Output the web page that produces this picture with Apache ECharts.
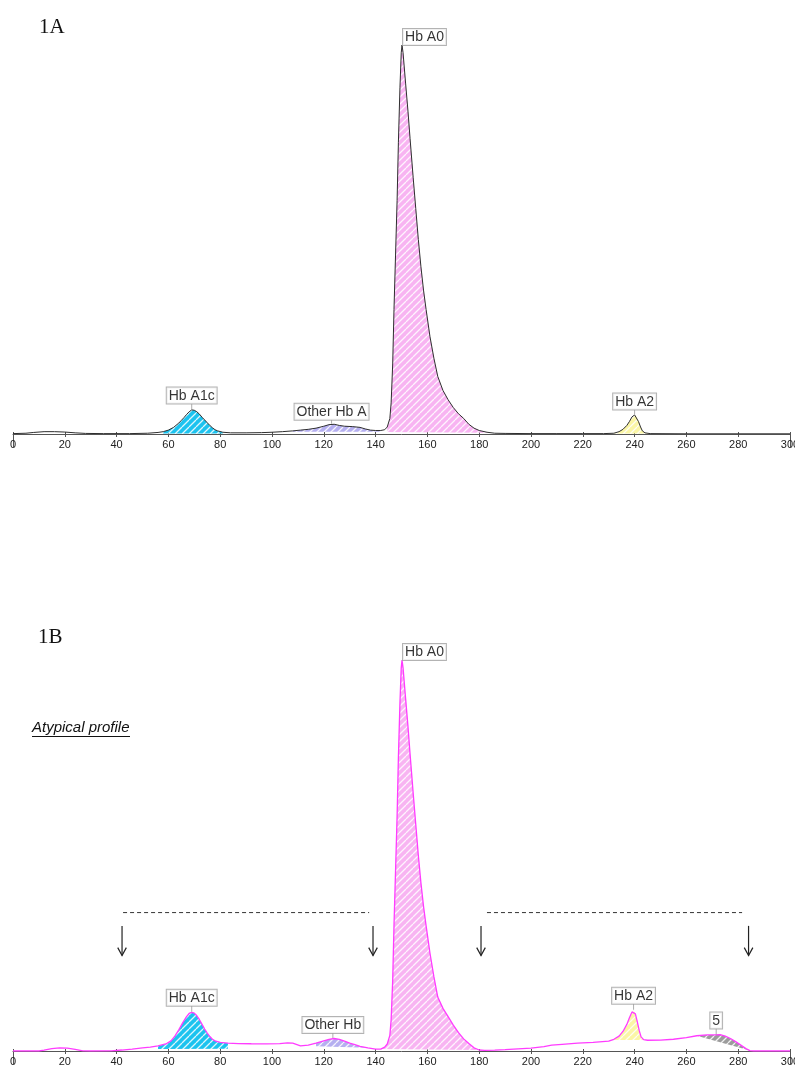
<!DOCTYPE html>
<html><head><meta charset="utf-8">
<script src="https://cdn.jsdelivr.net/npm/echarts@6/dist/echarts.min.js"></script>
<style>html,body{margin:0;padding:0;background:#fff}#c{width:795px;height:1068px}</style>
</head><body><div id="c"></div>
<script>
// ---------- DATA ----------
const xTickStep = 20;            // retention-time tick step
const xRange = [0, 300];

// Panel 1A chromatogram [time, signal]
const signal1A = [[0,0.1],[5,0.2],[8,0.4],[12,0.6],[16,0.6],[20,0.5],[24,0.3],[28,0.15],[35,0.1],[45,0.1],[52,0.2],[56,0.4],[58,0.6],[60,1.0],[62,1.7],[64,2.8],[65,3.5],[66,4.2],[67,5.0],[68,5.7],[69,6.2],[70,6.1],[71,5.7],[72,5.1],[73,4.3],[74,3.6],[75,2.9],[76,2.2],[77,1.6],[78,1.1],[79,0.8],[81,0.45],[84,0.3],[90,0.3],[96,0.35],[100,0.45],[104,0.6],[108,0.8],[111,1.0],[114,1.2],[117,1.5],[120,2.0],[122,2.4],[124,2.5],[126,2.2],[128,2.0],[131,1.9],[134,1.7],[136,1.3],[138,1.0],[140,0.9],[142,0.9],[143.5,1.1],[144.5,1.8],[145.5,4],[146,8],[146.6,18],[147.1,32],[147.7,46],[148.3,60],[148.8,75],[149.4,89],[149.9,98],[150.2,100],[150.6,98],[151.6,90],[152.5,83],[153.3,76],[154.5,66],[155.5,58],[156.5,50],[157.5,43],[158.5,37],[159.5,32],[161,25],[162.5,19.5],[164,14.8],[166,11.2],[168,8.8],[170,6.8],[172,5.2],[174,4.0],[176,2.5],[178,1.5],[180,0.9],[183,0.45],[186,0.2],[190,0.15],[200,0.1],[210,0.1],[220,0.1],[228,0.1],[232,0.2],[234,0.6],[235.5,1.2],[237,2.2],[238,3.2],[239,4.4],[240,4.9],[240.7,4.5],[241.5,3.2],[242.3,1.8],[243,0.8],[244,0.3],[246,0.1],[260,0.05],[280,0.05],[300,0.05]];

const peakNames1A = ['Hb A1c','Other Hb A','Hb A0','Hb A2'];
const peakTop1A   = [[69,6.2],[123,2.5],[150.2,100],[240,4.9]];
const peakSpan1A  = [[58,81],[108,142],[144.5,183],[232,246]];
const peakBase1A  = [[0.1,0.1],[0.6,0.6],[0.5,0.3],[0.1,0.1]];

// Panel 1B chromatogram [time, signal]
const signal1B = [[0,0],[10,0],[12,0.2],[15,0.6],[18,0.8],[21,0.75],[24,0.4],[27,0.05],[30,0],[38,0.05],[42,0.25],[46,0.5],[50,0.8],[53,1.0],[56,1.3],[59,1.8],[61,2.6],[62.5,3.8],[64,5.4],[65.5,7.2],[67,8.8],[68,9.6],[69,9.9],[70,9.7],[71,9.0],[72,8.0],[73,6.8],[74,5.6],[75,4.6],[76,3.7],[77,3.0],[78,2.6],[80,2.2],[83,2.0],[87,1.9],[92,1.85],[98,1.8],[103,1.9],[106,2.1],[108,2.0],[111,1.3],[114,1.5],[117,2.0],[120,2.6],[122,3.0],[124,3.2],[126,3.0],[128,2.5],[130,2.0],[132,1.6],[134,1.2],[137,0.8],[140,0.5],[142,0.5],[143.5,1.0],[144.5,1.8],[145.5,4],[146,8],[146.6,18],[147.1,32],[147.7,46],[148.3,60],[148.8,75],[149.4,89],[149.9,98],[150.2,100],[150.6,98],[151.6,90],[152.5,83],[153.3,76],[154.5,66],[155.5,58],[156.5,50],[157.5,43],[158.5,37],[159.5,32],[161,25],[162.5,19],[164,13.8],[166,10.9],[168,8.8],[170,6.6],[172,4.7],[174,3.1],[176,1.9],[178,0.8],[180,0.25],[182,0.15],[186,0.2],[190,0.35],[195,0.55],[200,0.75],[205,1.1],[208,1.5],[212,1.7],[218,2.0],[224,2.2],[230,2.5],[232,3.0],[234,3.8],[235.5,5],[237,6.8],[238,8.5],[239,10.0],[239.6,10.4],[240.3,9.5],[241,7.6],[241.8,5.2],[242.5,3.6],[243.5,2.9],[245,2.75],[250,2.8],[255,3.0],[260,3.4],[264,3.9],[268,4.1],[271,4.1],[273,4.2],[275,3.8],[277,3.2],[279,2.4],[281,1.5],[283,0.6],[284.5,0.1],[286,0],[300,0]];

const peakNames1B = ['Hb A1c','Other Hb','Hb A0','Hb A2','5'];
const peakTop1B   = [[69,9.9],[123.5,3.2],[150.2,100],[239.6,10.4],[271.5,4.1]];
const peakSpan1B  = [[56,83],[117,137],[142,180],[232,243.5],[264,284.5]];
const peakBase1B  = [[0.5,0.6],[1.2,0.8],[0.5,0.25],[2.8,2.8],[3.9,0.1]];

// Annotation in 1B (retention time / signal units)
const bracketLevel = 35.4;
const bracketSpans = [[42.5,137.5],[183,281.5]];
const arrowTimes   = [42.1,139,180.7,284];
const arrowRange   = [32, 24.4];

// ---------- STYLE ----------
const fillColors1A = ['#1cc3ef','#b5aff0','#f8b4f2','#fbf6a6'];
const fillColors1B = ['#1cc3ef','#b5aff0','#f8b4f2','#fbf6a6','#9c9c9c'];
const labelGap1A = [7,5,0,6];
const labelGap1B = [7,6,0,7,7];

function hatch(color){
  const s = 7;
  const c = document.createElement('canvas'); c.width = s; c.height = s;
  const g = c.getContext('2d');
  g.fillStyle = color; g.fillRect(0,0,s,s);
  g.strokeStyle = 'rgba(255,255,255,0.85)'; g.lineWidth = 1.3;
  g.beginPath();
  for (let k = -s; k <= 2*s; k += s){ g.moveTo(k, s); g.lineTo(k + s, 0); }
  g.stroke();
  return {type:'pattern', image:c, repeat:'repeat'};
}

const FONT = 'Liberation Sans, Arial, sans-serif';

function xAxesFor(gi){
  return [
    {gridIndex:gi, type:'value', min:xRange[0], max:xRange[1], interval:xTickStep, position:'bottom',
     axisLine:{show:true, onZero:false, lineStyle:{color:'#555', width:1}},
     axisTick:{show:true, length:3, lineStyle:{color:'#555'}},
     axisLabel:{show:true, fontSize:11, color:'#222', margin:5, fontFamily:FONT, hideOverlap:false},
     splitLine:{show:false}},
    {gridIndex:gi, type:'value', min:xRange[0], max:xRange[1], interval:xTickStep, position:'bottom',
     axisLine:{show:false}, axisLabel:{show:false}, splitLine:{show:false},
     axisTick:{show:true, inside:true, length:2, lineStyle:{color:'#555'}}},
    {gridIndex:gi, type:'value', min:xRange[0], max:xRange[1], interval:xRange[1]-xRange[0], position:'bottom',
     axisLine:{show:false}, axisLabel:{show:false}, splitLine:{show:false},
     axisTick:{show:true, length:13, lineStyle:{color:'#555'}}}
  ];
}

function fillSeries(xi, yi, signal, spans, bases, colors){
  return {
    type:'custom', xAxisIndex:xi, yAxisIndex:yi, z:2, silent:true,
    data: spans.map((s,i)=>[s[0], bases[i][0], s[1], bases[i][1], i]),
    encode:{x:[0,2], y:[1,3]},
    renderItem(params, api){
      const i = api.value(4), x0 = api.value(0), x1 = api.value(2);
      const pts = signal.filter(p => p[0] >= x0 && p[0] <= x1).map(p => api.coord(p));
      pts.push(api.coord([x1, api.value(3)]));
      pts.push(api.coord([x0, api.value(1)]));
      return {type:'polygon', shape:{points:pts}, style:{fill:hatch(colors[i]), stroke:null}};
    }
  };
}

function lineSeries(xi, yi, signal, color, width){
  return {type:'line', xAxisIndex:xi, yAxisIndex:yi, data:signal, symbol:'none', z:3, silent:true,
    lineStyle:{color:color, width:width}, smooth:false};
}

function labelSeries(xi, yi, names, tops, gaps){
  return {
    type:'scatter', xAxisIndex:xi, yAxisIndex:yi, z:5, silent:true,
    data: names.map((n,i)=>{
      const common = {show:true, formatter:'{b}', fontSize:14, fontFamily:FONT, color:'#000',
        backgroundColor:'#fff', borderColor:'#a0a0a0', borderWidth:1, padding:[1,2,0,2], lineHeight:15};
      if (gaps[i] === 0){
        return {name:n, value:tops[i], symbolSize:0,
          label:Object.assign({}, common, {position:[1,0], align:'left', verticalAlign:'bottom'})};
      }
      return {name:n, value:tops[i], symbol:'rect', symbolSize:[1, gaps[i]-1], symbolOffset:[0, -gaps[i]/2],
        itemStyle:{color:'#999'},
        label:Object.assign({}, common, {position:'top', distance:0})};
    })
  };
}

function annotationSeries(xi, yi){
  return {
    type:'custom', xAxisIndex:xi, yAxisIndex:yi, z:4, silent:true, clip:false,
    data:[[bracketSpans[0][0], bracketLevel]],
    renderItem(params, api){
      const children = [];
      bracketSpans.forEach(s=>{
        const a = api.coord([s[0], bracketLevel]), b = api.coord([s[1], bracketLevel]);
        children.push({type:'line', shape:{x1:a[0], y1:a[1], x2:b[0], y2:b[1]},
          style:{stroke:'#333', lineWidth:1, lineDash:[4,3]}});
      });
      arrowTimes.forEach(t=>{
        const a = api.coord([t, arrowRange[0]]), b = api.coord([t, arrowRange[1]]);
        children.push({type:'line', shape:{x1:a[0], y1:a[1], x2:b[0], y2:b[1]},
          style:{stroke:'#222', lineWidth:1.2}});
        children.push({type:'polyline', shape:{points:[[b[0]-4.3, b[1]-8],[b[0], b[1]],[b[0]+4.3, b[1]-8]]},
          style:{stroke:'#222', lineWidth:1.2, fill:null}});
      });
      return {type:'group', children};
    }
  };
}

const chart = echarts.init(document.getElementById('c'), null, {renderer:'canvas'});
chart.setOption({
  animation:false,
  backgroundColor:'#fff',
  title:[
    {text:'1A', left:39, top:17, padding:0, textStyle:{fontFamily:'Liberation Serif, Times New Roman, serif', fontSize:21, fontWeight:'normal', color:'#111'}},
    {text:'1B', left:38, top:627, padding:0, textStyle:{fontFamily:'Liberation Serif, Times New Roman, serif', fontSize:21, fontWeight:'normal', color:'#111'}},
    {text:'Atypical profile', left:32, top:720, padding:0, textStyle:{fontFamily:FONT, fontSize:15, fontStyle:'italic', fontWeight:'normal', color:'#111'}}
  ],
  graphic:[{type:'line', shape:{x1:32, y1:736.5, x2:130, y2:736.5}, style:{stroke:'#111', lineWidth:1}}],
  grid:[
    {left:13, width:777, top:45, height:389, containLabel:false, outerBoundsMode:'none'},
    {left:13, width:777, top:660, height:391, containLabel:false, outerBoundsMode:'none'}
  ],
  xAxis:[].concat(xAxesFor(0), xAxesFor(1)),
  yAxis:[
    {gridIndex:0, type:'value', min:0, max:100, show:false},
    {gridIndex:1, type:'value', min:0, max:100, show:false}
  ],
  series:[
    fillSeries(0,0,signal1A,peakSpan1A,peakBase1A,fillColors1A),
    lineSeries(0,0,signal1A,'#2e2e2e',1),
    labelSeries(0,0,peakNames1A,peakTop1A,labelGap1A),
    fillSeries(3,1,signal1B,peakSpan1B,peakBase1B,fillColors1B),
    lineSeries(3,1,signal1B,'#ff3cff',1.3),
    labelSeries(3,1,peakNames1B,peakTop1B,labelGap1B),
    annotationSeries(3,1)
  ]
});
</script></body></html>
